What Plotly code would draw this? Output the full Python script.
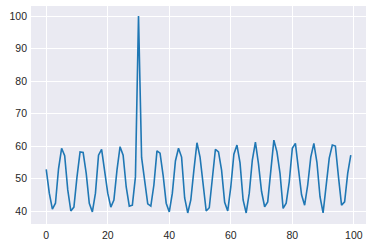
import plotly.graph_objects as go

x_vals = list(range(100))
y_vals = [
    52.8, 45.5, 40.6, 42.4, 53.0, 59.3, 57.0, 46.5, 40.0, 41.2,
    50.5, 58.2, 58.0, 51.6, 42.4, 39.7, 45.5, 57.2, 59.0, 51.6,
    45.5, 41.2, 43.4, 52.6, 59.8, 57.2, 47.4, 41.5, 41.8, 50.5,
    100.0, 56.5, 49.5, 42.2, 41.5, 48.0, 58.5, 57.8, 51.0, 42.4,
    39.7, 45.5, 55.4, 59.3, 56.6, 44.0, 39.4, 43.4, 52.6, 61.0,
    56.6, 47.4, 40.0, 41.0, 49.5, 59.0, 58.2, 52.6, 42.7, 40.0,
    47.4, 57.5, 60.3, 54.8, 43.4, 39.4, 45.5, 55.7, 61.2, 54.5,
    46.0, 41.3, 42.8, 53.0, 61.8, 58.2, 51.6, 40.8, 42.4, 49.0,
    59.3, 60.8, 52.6, 45.0, 41.8, 48.0, 56.6, 60.8, 55.0, 44.4,
    39.4, 47.4, 56.3, 60.3, 60.0, 50.5, 41.8, 42.8, 51.6, 57.2,
]
x_ticks = [0, 20, 40, 60, 80, 100]
y_ticks = [40, 50, 60, 70, 80, 90, 100]

fig = go.Figure(go.Scatter(
    x=x_vals, y=y_vals, mode="lines",
    line=dict(color="#1f77b4", width=1.6),
    hoverinfo="skip",
))

axis_common = dict(
    showgrid=True, gridcolor="white", gridwidth=1,
    zeroline=False, showline=False, ticks="",
    tickfont=dict(family="Liberation Sans, Arial, sans-serif", size=10.5, color="#262626"),
)

fig.update_layout(
    width=372, height=247,
    margin=dict(l=31, r=6, t=6, b=23),
    paper_bgcolor="white", plot_bgcolor="#EAEAF2",
    showlegend=False,
    xaxis=dict(range=[-4.95, 103.95], tickvals=x_ticks, ticktext=[str(v) for v in x_ticks],
               ticklabelstandoff=3, **axis_common),
    yaxis=dict(range=[36.0, 103.1], tickvals=y_ticks, ticktext=[str(v) for v in y_ticks],
               ticklabelstandoff=3, **axis_common),
)

fig.write_html("out.html")
